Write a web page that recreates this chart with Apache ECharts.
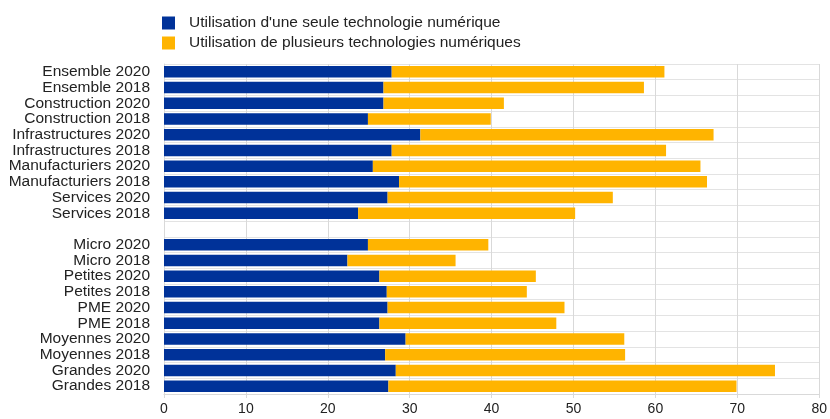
<!DOCTYPE html>
<html>
<head>
<meta charset="utf-8">
<script src="https://cdn.jsdelivr.net/npm/echarts@6/dist/echarts.min.js"></script>
<style>
  html, body { margin: 0; padding: 0; background: #fff; }
  #main { width: 830px; height: 419px; }
</style>
</head>
<body>
<div id="main"></div>
<script>
// categories, top to bottom ('' = empty separator row)
var categories = [
    'Ensemble 2020', 'Ensemble 2018', 'Construction 2020', 'Construction 2018',
    'Infrastructures 2020', 'Infrastructures 2018', 'Manufacturiers 2020', 'Manufacturiers 2018',
    'Services 2020', 'Services 2018', '',
    'Micro 2020', 'Micro 2018', 'Petites 2020', 'Petites 2018', 'PME 2020', 'PME 2018',
    'Moyennes 2020', 'Moyennes 2018', 'Grandes 2020', 'Grandes 2018'
];
var seriesNames = [
    "Utilisation d'une seule technologie numérique",
    'Utilisation de plusieurs technologies numériques'
];
var single = [27.8, 26.8, 26.8, 24.9, 31.3, 27.8, 25.5, 28.7, 27.3, 23.7, '-',
    24.9, 22.4, 26.3, 27.2, 27.3, 26.3, 29.5, 27.0, 28.3, 27.4];
var multiple = [33.3, 31.8, 14.7, 15.0, 35.8, 33.5, 40.0, 37.6, 27.5, 26.5, '-',
    14.7, 13.2, 19.1, 17.1, 21.6, 21.6, 26.7, 29.3, 46.3, 42.5];
var xTicks = [0, 80, 10]; // min, max, interval

var myChart = echarts.init(document.getElementById('main'));
var font = 'Liberation Sans, Arial, sans-serif';

var option = {
    animation: false,
    textStyle: { fontFamily: font },
    legend: {
        orient: 'vertical',
        left: 162,
        top: 15,
        padding: 0,
        itemWidth: 13,
        itemHeight: 13,
        itemGap: 4,
        icon: 'rect',
        textStyle: {
            fontSize: 15.5, color: '#222', fontFamily: font,
            lineHeight: 14, padding: [0, 0, 0, 9]
        },
        data: seriesNames
    },
    grid: { left: 164, right: 10, top: 64, bottom: 25, containLabel: false },
    xAxis: {
        type: 'value',
        min: xTicks[0],
        max: xTicks[1],
        interval: xTicks[2],
        axisLine: { show: true, lineStyle: { color: '#d9d9d9' } },
        axisTick: { show: true, length: 4, lineStyle: { color: '#d9d9d9' } },
        axisLabel: { fontSize: 14, color: '#222', margin: 8 },
        splitLine: { show: true, lineStyle: { color: '#d9d9d9' } }
    },
    yAxis: {
        type: 'category',
        inverse: true,
        data: categories,
        axisLine: { show: true, lineStyle: { color: '#d9d9d9' } },
        axisTick: { show: false },
        axisLabel: { fontSize: 15.5, color: '#222', margin: 14, interval: 0 },
        splitLine: { show: true, interval: 0, lineStyle: { color: '#e3e3e3' } }
    },
    series: [
        {
            name: seriesNames[0],
            type: 'bar',
            stack: 'total',
            barCategoryGap: '27%',
            itemStyle: { color: '#003299' },
            data: single
        },
        {
            name: seriesNames[1],
            type: 'bar',
            stack: 'total',
            barCategoryGap: '27%',
            itemStyle: { color: '#ffb400' },
            data: multiple
        }
    ]
};
myChart.setOption(option);
</script>
</body>
</html>
